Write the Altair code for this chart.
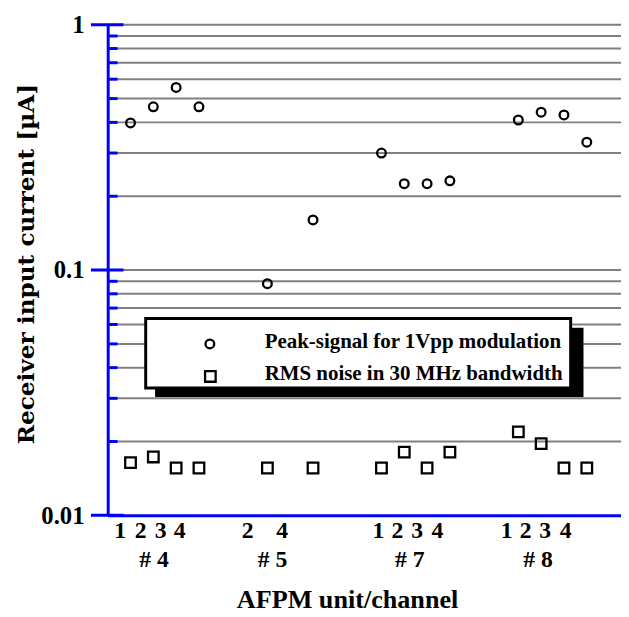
import altair as alt
import pandas as pd

# ---------------- data ----------------
units = ["# 4"] * 4 + ["# 5"] * 2 + ["# 7"] * 4 + ["# 8"] * 4
channels = [1, 2, 3, 4, 2, 4, 1, 2, 3, 4, 1, 2, 3, 4]
positions = [1, 2, 3, 4, 7, 9, 12, 13, 14, 15, 18, 19, 20, 21]
peak_signal = [0.398, 0.463, 0.555, 0.463, 0.088, 0.16,
               0.30, 0.225, 0.225, 0.231, 0.409, 0.44, 0.429, 0.332]
rms_noise = [0.0164, 0.0173, 0.0156, 0.0156, 0.0156, 0.0156,
             0.0156, 0.0181, 0.0156, 0.0181, 0.0219, 0.0196, 0.0156, 0.0156]

series_names = ["Peak-signal for 1Vpp modulation", "RMS noise in 30 MHz bandwidth"]

# tick label texts (channel digits and unit names) with their x positions
digit_labels = ["1", "2", "3", "4", "2", "4", "1", "2", "3", "4", "1", "2", "3", "4"]
digit_pos = [0.55, 1.45, 2.32, 3.15, 6.14, 7.65, 11.87, 12.70, 13.56, 14.45,
             17.49, 18.32, 19.18, 20.08]
group_labels = ["# 4", "# 5", "# 7", "# 8"]
group_pos = [2.03, 7.23, 13.24, 18.86]

major_ticks = [0.01, 0.1, 1]
minor_ticks = [0.02, 0.03, 0.04, 0.05, 0.06, 0.07, 0.08, 0.09,
               0.2, 0.3, 0.4, 0.5, 0.6, 0.7, 0.8, 0.9]
grid_values = [0.02, 0.03, 0.04, 0.05, 0.06, 0.07, 0.08, 0.09,
               0.1, 0.2, 0.3, 0.4, 0.5, 0.6, 0.7, 0.8, 0.9, 1.0]

# ---------------- tables ----------------
df_peak = pd.DataFrame({"unit": units, "channel": channels, "pos": positions,
                        "value": peak_signal})
df_noise = pd.DataFrame({"unit": units, "channel": channels, "pos": positions,
                         "value": rms_noise})
df_digits = pd.DataFrame({"t": digit_labels, "p": digit_pos})
df_groups = pd.DataFrame({"t": group_labels, "p": group_pos})

W, H = 520, 497
SERIF = "Liberation Serif"
BLUE = "#0000ff"

xscale = alt.Scale(domain=[0, 22.5], nice=False, zero=False)
yscale = alt.Scale(type="log", domain=[0.01, 1], nice=False)

yaxis = alt.Axis(values=major_ticks, format="~g", grid=False, ticks=False,
                 domainColor=BLUE, domainWidth=3, labelColor="black",
                 labelFont=SERIF, labelFontWeight="bold", labelFontSize=25,
                 labelPadding=24, zindex=1,
                 title="Receiver input current [µA]", titleFont="DejaVu Serif",
                 titleFontWeight="bold", titleFontSize=23.5, titleColor="black",
                 titleX=-82, titleY=242, titleAlign="center",
                 titleBaseline="middle", titleAngle=270)
xaxis = alt.Axis(grid=False, ticks=False, labels=False, domainColor=BLUE,
                 domainWidth=3, zindex=1,
                 title="AFPM unit/channel", titleFont=SERIF, titleFontWeight="bold",
                 titleFontSize=26.5, titleColor="black", titleX=242.5, titleY=93,
                 titleAlign="center", titleBaseline="alphabetic")

grid = alt.Chart(pd.DataFrame({"v": grid_values})).mark_rule(
    color="#808080", strokeWidth=2).encode(
    y=alt.Y("v:Q", scale=yscale, axis=yaxis))

minor = alt.Chart(pd.DataFrame({"v": minor_ticks})).mark_rule(
    color=BLUE, strokeWidth=3).encode(
    y=alt.Y("v:Q", scale=yscale, axis=yaxis), x=alt.value(0), x2=alt.value(10))

major = alt.Chart(pd.DataFrame({"v": major_ticks})).mark_rule(
    color=BLUE, strokeWidth=3).encode(
    y=alt.Y("v:Q", scale=yscale, axis=yaxis), x=alt.value(-17), x2=alt.value(16))

circles = alt.Chart(df_peak).mark_point(
    shape="circle", filled=False, color="black", strokeWidth=2.3, size=78,
    opacity=1).encode(
    x=alt.X("pos:Q", scale=xscale, axis=xaxis),
    y=alt.Y("value:Q", scale=yscale, axis=yaxis))

squares = alt.Chart(df_noise).mark_point(
    shape="square", filled=False, color="black", strokeWidth=2.3, size=115,
    opacity=1).encode(
    x=alt.X("pos:Q", scale=xscale, axis=xaxis),
    y=alt.Y("value:Q", scale=yscale, axis=yaxis))

digits = alt.Chart(df_digits).mark_text(
    font=SERIF, fontWeight="bold", fontSize=24, baseline="alphabetic",
    align="center", color="black").encode(
    x=alt.X("p:Q", scale=xscale, axis=xaxis), y=alt.value(520), text="t:N")

groups = alt.Chart(df_groups).mark_text(
    font=SERIF, fontWeight="bold", fontSize=24, baseline="alphabetic",
    align="center", color="black").encode(
    x=alt.X("p:Q", scale=xscale, axis=xaxis), y=alt.value(549), text="t:N")

one = pd.DataFrame({"a": [0]})
shadow = alt.Chart(one).mark_rect(color="black").encode(
    x=alt.value(48), x2=alt.value(482), y=alt.value(307), y2=alt.value(377))
box = alt.Chart(one).mark_rect(fill="white", stroke="black", strokeWidth=3).encode(
    x=alt.value(38.5), x2=alt.value(469), y=alt.value(297.5), y2=alt.value(368))
leg_circle = alt.Chart(one).mark_point(
    shape="circle", filled=False, color="black", strokeWidth=2.3, size=78,
    opacity=1).encode(x=alt.value(103.5), y=alt.value(323.3))
leg_square = alt.Chart(one).mark_point(
    shape="square", filled=False, color="black", strokeWidth=2.3, size=115,
    opacity=1).encode(x=alt.value(104), y=alt.value(356.3))
leg_text1 = alt.Chart(pd.DataFrame({"t": [series_names[0]]})).mark_text(
    font=SERIF, fontWeight="bold", fontSize=21.2, align="left",
    baseline="alphabetic", color="black").encode(
    x=alt.value(159), y=alt.value(327.3), text="t:N")
leg_text2 = alt.Chart(pd.DataFrame({"t": [series_names[1]]})).mark_text(
    font=SERIF, fontWeight="bold", fontSize=21.2, align="left",
    baseline="alphabetic", color="black").encode(
    x=alt.value(159), y=alt.value(360.3), text="t:N")

chart = alt.layer(
    grid, minor, major, shadow, box, leg_circle, leg_square, leg_text1,
    leg_text2, circles, squares, digits, groups
).properties(
    width=W, height=H,
    padding={"left": 101, "top": 13, "right": 0, "bottom": 99},
    autosize=alt.AutoSizeParams(type="none"),
).configure_view(stroke=None).configure(background="white")

chart.save("out.html", embed_options={"renderer": "svg", "actions": False})
